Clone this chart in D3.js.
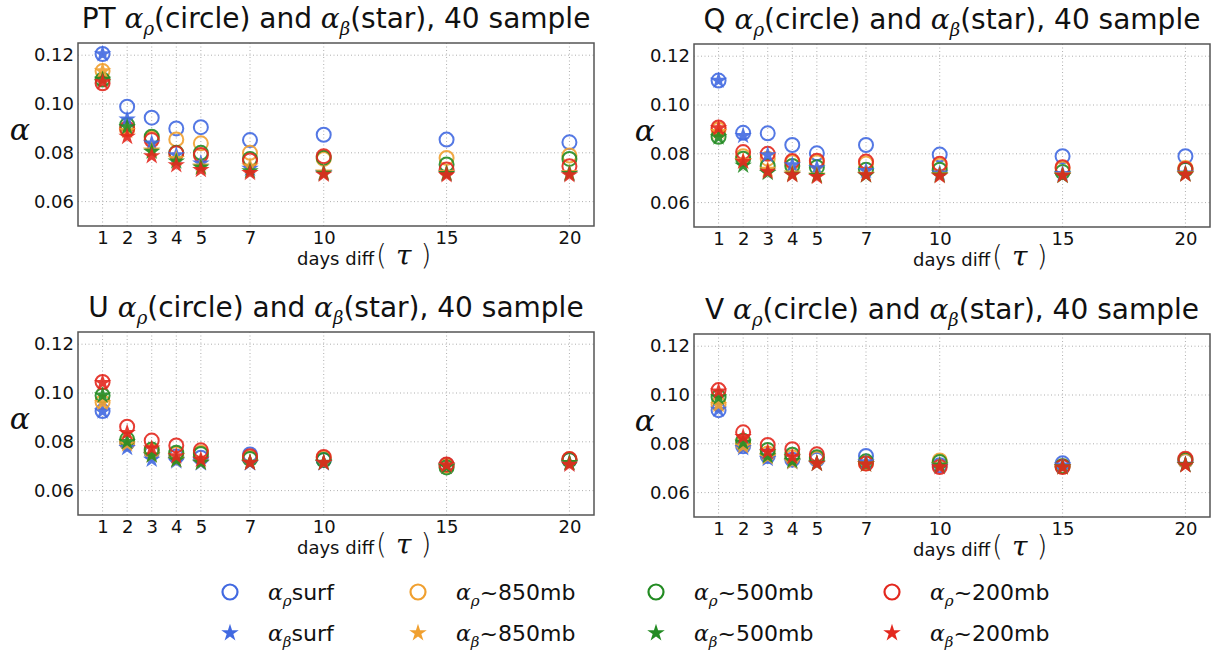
<!DOCTYPE html>
<html>
<head>
<meta charset="utf-8">
<script src="https://cdn.jsdelivr.net/npm/d3@7"></script>
<style>
body{margin:0;background:#fff;}
svg{display:block;}
</style>
</head>
<body>
<div class="maintable"></div>
<script>
// x 轴：相隔天数
var days = [1,2,3,4,5,7,10,15,20];
var yTicks = [0.06,0.08,0.10,0.12];
var levels = ["surf","~850mb","~500mb","~200mb"];
var levelColors = ["#4169e1","#f0a030","#228b22","#e3281e"];

// 每行顺序：surf, ~850mb, ~500mb, ~200mb
var ptRho = [
  [0.1205,0.0989,0.0944,0.0900,0.0905,0.0852,0.0874,0.0854,0.0843],
  [0.1135,0.0896,0.0860,0.0855,0.0839,0.0800,0.0775,0.0779,0.0789],
  [0.1100,0.0914,0.0866,0.0800,0.0800,0.0775,0.0780,0.0752,0.0775],
  [0.1085,0.0900,0.0852,0.0798,0.0791,0.0768,0.0786,0.0732,0.0745]
];
var ptBeta = [
  [0.1205,0.0937,0.0839,0.0791,0.0757,0.0735,0.0718,0.0716,0.0716],
  [0.1135,0.0890,0.0810,0.0775,0.0745,0.0745,0.0720,0.0718,0.0718],
  [0.1100,0.0905,0.0805,0.0765,0.0740,0.0725,0.0715,0.0714,0.0714],
  [0.1090,0.0866,0.0787,0.0750,0.0730,0.0718,0.0711,0.0709,0.0709]
];
var qRho = [
  [0.1100,0.0886,0.0884,0.0836,0.0802,0.0836,0.0797,0.0790,0.0790],
  [0.0900,0.0790,0.0780,0.0765,0.0765,0.0760,0.0752,0.0740,0.0742],
  [0.0870,0.0780,0.0750,0.0750,0.0745,0.0735,0.0735,0.0725,0.0735],
  [0.0908,0.0807,0.0800,0.0770,0.0772,0.0768,0.0759,0.0745,0.0738]
];
var qBeta = [
  [0.1100,0.0874,0.0795,0.0754,0.0741,0.0730,0.0720,0.0718,0.0720],
  [0.0890,0.0770,0.0735,0.0720,0.0712,0.0715,0.0714,0.0712,0.0718],
  [0.0868,0.0752,0.0722,0.0715,0.0710,0.0712,0.0712,0.0710,0.0716],
  [0.0905,0.0768,0.0727,0.0713,0.0706,0.0713,0.0709,0.0711,0.0715]
];
var uRho = [
  [0.0926,0.0795,0.0755,0.0740,0.0735,0.0748,0.0725,0.0705,0.0725],
  [0.0962,0.0796,0.0760,0.0750,0.0755,0.0735,0.0734,0.0702,0.0728],
  [0.0990,0.0810,0.0768,0.0755,0.0750,0.0730,0.0725,0.0695,0.0725],
  [0.1045,0.0862,0.0805,0.0785,0.0765,0.0741,0.0738,0.0707,0.0730]
];
var uBeta = [
  [0.0925,0.0775,0.0727,0.0720,0.0712,0.0712,0.0712,0.0700,0.0712],
  [0.0960,0.0790,0.0745,0.0725,0.0715,0.0715,0.0714,0.0700,0.0714],
  [0.0990,0.0800,0.0745,0.0725,0.0715,0.0715,0.0715,0.0698,0.0714],
  [0.1042,0.0837,0.0773,0.0741,0.0727,0.0714,0.0714,0.0705,0.0707]
];
var vRho = [
  [0.0938,0.0790,0.0750,0.0735,0.0735,0.0750,0.0712,0.0720,0.0730],
  [0.0962,0.0800,0.0760,0.0745,0.0740,0.0720,0.0732,0.0708,0.0730],
  [0.0992,0.0812,0.0775,0.0755,0.0745,0.0728,0.0725,0.0708,0.0735],
  [0.1020,0.0847,0.0795,0.0778,0.0757,0.0719,0.0705,0.0705,0.0739]
];
var vBeta = [
  [0.0940,0.0783,0.0738,0.0725,0.0718,0.0725,0.0708,0.0712,0.0715],
  [0.0960,0.0790,0.0745,0.0725,0.0718,0.0716,0.0712,0.0705,0.0714],
  [0.0990,0.0805,0.0750,0.0730,0.0720,0.0716,0.0712,0.0705,0.0714],
  [0.1015,0.0828,0.0767,0.0746,0.0719,0.0716,0.0705,0.0704,0.0712]
];

// 子图位置
var panels = [
  {name:"PT", rho:ptRho, beta:ptBeta, left:78,  top:43,  ylab:58},
  {name:"Q",  rho:qRho,  beta:qBeta,  left:694, top:44,  ylab:49},
  {name:"U",  rho:uRho,  beta:uBeta,  left:78,  top:332, ylab:58},
  {name:"V",  rho:vRho,  beta:vBeta,  left:694, top:334, ylab:49}
];
var plotW = 516, plotH = 183;
var sans = "DejaVu Sans, Verdana, sans-serif";
var serif = "DejaVu Serif, serif";

var svg = d3.select(".maintable").append("svg")
  .attr("width",1220)
  .attr("height",650);

var star = d3.symbol().type(d3.symbolStar).size(95);

// α 加下标
function addAlpha(text, sub, fs, subFs){
  text.append("tspan")
    .attr("font-family",serif)
    .attr("font-style","italic")
    .attr("font-size",fs)
    .text("α");
  text.append("tspan")
    .attr("font-family",serif)
    .attr("font-style","italic")
    .attr("font-size",subFs)
    .attr("dy",fs*0.25)
    .text(sub);
}

panels.forEach(function(p){
  var x = d3.scaleLinear().domain([0,21]).range([p.left,p.left+plotW]);
  var y = d3.scaleLinear().domain([0.05,0.125]).range([p.top+plotH,p.top]);
  var g = svg.append("g");

  // 网格
  g.append("g").selectAll("line").data(days).join("line")
    .attr("x1",function(d){return x(d);})
    .attr("x2",function(d){return x(d);})
    .attr("y1",p.top)
    .attr("y2",p.top+plotH)
    .attr("stroke","#9a9a9a")
    .attr("stroke-width",0.8)
    .attr("stroke-dasharray","1,2.5");
  g.append("g").selectAll("line").data(yTicks).join("line")
    .attr("x1",p.left)
    .attr("x2",p.left+plotW)
    .attr("y1",function(d){return y(d);})
    .attr("y2",function(d){return y(d);})
    .attr("stroke","#9a9a9a")
    .attr("stroke-width",0.8)
    .attr("stroke-dasharray","1,2.5");

  // 坐标轴
  var xa = g.append("g")
    .attr("transform","translate(0,"+(p.top+plotH)+")")
    .call(d3.axisBottom(x).tickValues(days).tickSize(0).tickPadding(5));
  var ya = g.append("g")
    .attr("transform","translate("+p.left+",0)")
    .call(d3.axisLeft(y).tickValues(yTicks).tickFormat(d3.format(".2f")).tickSize(0).tickPadding(4));
  [xa,ya].forEach(function(a){
    a.select(".domain").remove();
    a.selectAll("text")
      .attr("font-family",sans)
      .attr("font-size",18)
      .attr("fill","#111");
  });

  // 圆圈 α_ρ
  p.rho.forEach(function(vals,i){
    g.append("g").selectAll("circle").data(vals).join("circle")
      .attr("cx",function(d,j){return x(days[j]);})
      .attr("cy",function(d){return y(d);})
      .attr("r",7)
      .attr("fill","none")
      .attr("stroke",levelColors[i])
      .attr("stroke-width",2)
      .attr("opacity",0.9);
  });
  // 星号 α_β
  p.beta.forEach(function(vals,i){
    g.append("g").selectAll("path").data(vals).join("path")
      .attr("d",star)
      .attr("transform",function(d,j){return "translate("+x(days[j])+","+y(d)+")";})
      .attr("fill",levelColors[i])
      .attr("opacity",0.9);
  });

  // 边框
  g.append("rect")
    .attr("x",p.left)
    .attr("y",p.top)
    .attr("width",plotW)
    .attr("height",plotH)
    .attr("fill","none")
    .attr("stroke","#555")
    .attr("stroke-width",1.5);

  // 标题
  var t = g.append("text")
    .attr("x",p.left+plotW/2)
    .attr("y",p.top-15)
    .attr("text-anchor","middle")
    .attr("font-family",sans)
    .attr("font-size",28)
    .attr("fill","#111");
  t.append("tspan").text(p.name+" ");
  addAlpha(t,"ρ",28,18);
  t.append("tspan").attr("dy",-7).text("(circle) and ");
  addAlpha(t,"β",28,18);
  t.append("tspan").attr("dy",-7).text("(star), 40 sample");

  // x 轴标签
  var xl = g.append("text")
    .attr("x",p.left+219)
    .attr("y",p.top+plotH+39)
    .attr("font-family",sans)
    .attr("font-size",18)
    .attr("fill","#111");
  xl.append("tspan").text("days diff");
  xl.append("tspan").attr("font-size",28).attr("font-weight",300).attr("dx",2).text("(");
  xl.append("tspan").attr("font-family",serif).attr("font-style","italic")
    .attr("font-size",28).attr("dx",9).text("τ");
  xl.append("tspan").attr("font-size",28).attr("font-weight",300).attr("dx",9).text(")");

  // y 轴标签
  g.append("text")
    .attr("x",p.left-p.ylab)
    .attr("y",p.top+plotH/2+5)
    .attr("text-anchor","middle")
    .attr("font-family",serif)
    .attr("font-style","italic")
    .attr("font-size",30)
    .attr("fill","#111")
    .text("α");
});

// 图例
var legX = [230,418,656,892];
var legY = [592,633];
levels.forEach(function(lv,i){
  var lg = svg.append("g");
  lg.append("circle")
    .attr("cx",legX[i])
    .attr("cy",legY[0])
    .attr("r",7.5)
    .attr("fill","none")
    .attr("stroke",levelColors[i])
    .attr("stroke-width",2.2);
  lg.append("path")
    .attr("d",star)
    .attr("transform","translate("+legX[i]+","+legY[1]+")")
    .attr("fill",levelColors[i]);
  ["ρ","β"].forEach(function(sub,k){
    var lt = lg.append("text")
      .attr("x",legX[i]+38)
      .attr("y",legY[k]+8)
      .attr("font-family",sans)
      .attr("font-size",22)
      .attr("fill","#111");
    addAlpha(lt,sub,22,15);
    lt.append("tspan").attr("dy",-5.5).text(lv);
  });
});
</script>
</body>
</html>
